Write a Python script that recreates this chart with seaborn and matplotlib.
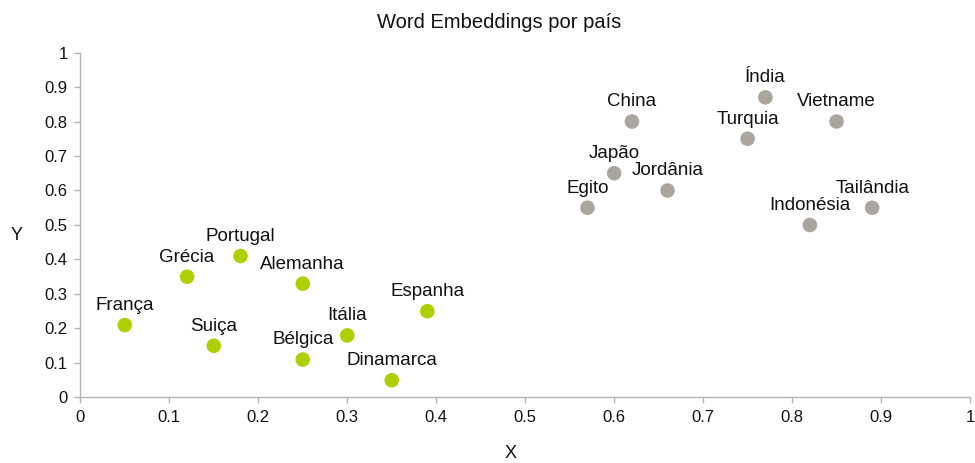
import pandas as pd
import seaborn as sns
import matplotlib.pyplot as plt

# Europe (green) and Asia/Middle East (gray)
eu_names = ['França', 'Suiça', 'Grécia', 'Portugal', 'Alemanha', 'Bélgica', 'Itália', 'Dinamarca', 'Espanha']
eu_x = [0.05, 0.15, 0.12, 0.18, 0.25, 0.25, 0.30, 0.35, 0.39]
eu_y = [0.21, 0.15, 0.35, 0.41, 0.33, 0.11, 0.18, 0.05, 0.25]

as_names = ['Egito', 'Japão', 'China', 'Jordânia', 'Turquia', 'Índia', 'Vietname', 'Indonésia', 'Tailândia']
as_x = [0.57, 0.60, 0.62, 0.66, 0.75, 0.77, 0.85, 0.82, 0.89]
as_y = [0.55, 0.65, 0.80, 0.60, 0.75, 0.87, 0.80, 0.50, 0.55]

ticks = [0, 0.1, 0.2, 0.3, 0.4, 0.5, 0.6, 0.7, 0.8, 0.9, 1]
tick_labels = ['0', '0.1', '0.2', '0.3', '0.4', '0.5', '0.6', '0.7', '0.8', '0.9', '1']

df = pd.DataFrame({
    'nome': eu_names + as_names,
    'X': eu_x + as_x,
    'Y': eu_y + as_y,
    'grupo': ['eu'] * len(eu_names) + ['as'] * len(as_names),
})

sns.set_style('white')
plt.rcParams['font.family'] = ['Liberation Sans', 'DejaVu Sans']

fig = plt.figure(figsize=(9.75, 4.63), dpi=100)
ax = fig.add_axes([0.0824, 0.1415, 0.9125, 0.7451])

sns.scatterplot(data=df, x='X', y='Y', hue='grupo', palette={'eu': '#aecf00', 'as': '#aaa59f'},
                s=110, linewidth=0, legend=False, ax=ax, zorder=3, clip_on=False)

# labels above each point
for _, r in df.iterrows():
    ax.annotate(r['nome'], (r['X'], r['Y']), xytext=(0, 8), textcoords='offset points',
                ha='center', va='bottom', fontsize=13.5, color='#111111')

ax.set_xlim(0, 1)
ax.set_ylim(0, 1)
ax.set_xticks(ticks)
ax.set_xticklabels(tick_labels)
ax.set_yticks(ticks)
ax.set_yticklabels(tick_labels)

for s in ['top', 'right']:
    ax.spines[s].set_visible(False)
for s in ['bottom', 'left']:
    ax.spines[s].set_color('#b3b3b3')
    ax.spines[s].set_linewidth(1)
ax.tick_params(axis='both', which='both', length=4, width=1, color='#b3b3b3',
               labelsize=12, labelcolor='#111111', pad=5, direction='out',
               bottom=True, left=True)

ax.set_xlabel('X', fontsize=13, color='#111111')
ax.xaxis.set_label_coords(0.484, -0.138)
ax.set_ylabel('Y', fontsize=13, color='#111111', rotation=0)
ax.yaxis.set_label_coords(-0.072, 0.445)
fig.text(499 / 975, 1 - 22 / 463, 'Word Embeddings por país', fontsize=14.5,
         color='#111111', ha='center', va='center')

plt.savefig('out.png', dpi=100, facecolor='white')
